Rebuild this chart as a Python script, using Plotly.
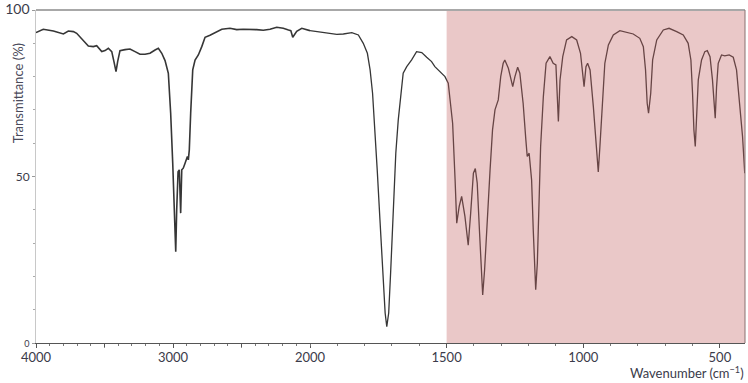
import plotly.graph_objects as go

# Wavenumber (cm-1) and transmittance (%)
wavenumber = [
    4000, 3947, 3873, 3837, 3800, 3764, 3727, 3703, 3655, 3618, 3582, 3557, 3520, 3496,
    3472, 3447, 3431, 3416, 3404, 3387, 3350, 3314, 3277, 3241, 3204, 3168, 3131, 3107,
    3082, 3058, 3034, 3017, 3002, 2993, 2985, 2980, 2973, 2963, 2954, 2944, 2936, 2925,
    2912, 2895, 2888, 2881, 2871, 2856, 2839, 2815, 2790, 2766, 2730, 2681, 2644, 2584,
    2535, 2487, 2438, 2389, 2341, 2292, 2243, 2195, 2157, 2140, 2126, 2110, 2097, 2060,
    2024, 2000, 1976, 1939, 1902, 1878, 1847, 1823, 1805, 1790, 1780, 1771, 1762, 1754,
    1744, 1734, 1725, 1719, 1712, 1705, 1695, 1686, 1677, 1668, 1659, 1646, 1628, 1610,
    1591, 1573, 1555, 1543, 1524, 1506, 1494, 1488, 1478, 1469, 1463, 1454, 1445, 1433,
    1421, 1412, 1402, 1395, 1388, 1380, 1373, 1368, 1361, 1351, 1341, 1332, 1323, 1311,
    1302, 1293, 1287, 1274, 1258, 1250, 1240, 1232, 1220, 1210, 1205, 1198, 1189, 1183,
    1174, 1168, 1162, 1156, 1146, 1136, 1122, 1110, 1100, 1091, 1085, 1075, 1061, 1042,
    1024, 1010, 997, 990, 984, 975, 963, 951, 945, 939, 930, 921, 908, 890,
    866, 841, 817, 793, 780, 772, 766, 761, 753, 746, 731, 707, 686, 658,
    634, 616, 606, 600, 595, 590, 585, 579, 567, 555, 546, 536, 527, 519,
    517, 512, 506, 494, 482, 466, 451, 439, 427, 417, 409,
]
transmittance = [
    93.2, 94.2, 93.7, 93.2, 92.8, 93.7, 93.5, 93.0, 90.8, 89.2, 89.0, 89.3, 87.5, 87.8,
    88.5, 87.5, 84.5, 81.5, 84.5, 87.8, 88.1, 88.3, 87.5, 86.7, 86.7, 87.0, 88.0, 88.5,
    87.0, 84.8, 81.0, 69.0, 54.0, 42.0, 34.0, 27.4, 40.0, 51.4, 52.0, 39.0, 52.0, 52.5,
    54.0, 56.0, 55.0, 58.0, 69.0, 82.0, 85.0, 86.5, 89.0, 91.8, 92.4, 93.5, 94.2, 94.5,
    94.1, 94.2, 94.2, 94.1, 93.9, 94.2, 94.8, 94.5, 94.0, 93.8, 91.8, 93.0, 93.6, 94.5,
    94.0, 93.8, 93.5, 93.2, 92.7, 92.8, 93.2, 92.5, 90.0, 87.0, 82.0, 75.0, 64.0, 52.0,
    37.0, 21.0, 9.0, 4.9, 9.0, 21.0, 39.0, 57.0, 67.0, 75.0, 81.0, 83.0, 85.0, 87.5,
    87.2, 85.8, 84.5, 83.0, 81.5, 80.0, 78.0, 74.0, 66.0, 49.0, 36.0, 41.0, 44.0, 38.0,
    29.4, 39.0, 51.0, 52.4, 48.0, 34.0, 22.0, 14.4, 22.0, 38.0, 52.0, 64.0, 70.0, 73.0,
    80.0, 84.0, 85.0, 82.5, 77.0, 80.0, 82.8, 81.0, 72.0, 61.0, 56.0, 57.0, 49.0, 34.0,
    16.0, 24.0, 44.0, 59.0, 74.0, 84.0, 86.0, 84.0, 83.5, 66.5, 79.0, 86.0, 91.0, 92.0,
    91.0, 87.0, 77.0, 83.0, 84.0, 82.0, 71.0, 57.0, 51.4, 59.0, 72.0, 84.0, 89.5, 92.5,
    93.8, 93.2, 92.8, 91.5, 89.0, 82.0, 72.0, 69.0, 75.0, 85.0, 91.0, 94.0, 94.5, 93.5,
    92.5, 90.0, 85.0, 75.0, 64.0, 59.0, 67.0, 79.0, 85.0, 87.5, 87.8, 86.0, 79.0, 69.0,
    67.5, 77.0, 84.0, 86.5, 86.2, 86.5, 85.8, 82.0, 72.0, 62.0, 51.0,
]
x_tick_labels_left = ["4000", "3000", "2000"]
x_tick_labels_right = ["1500", "1000", "500"]

break_wn = 2000          # scale changes here (expanded below 2000)
x_end = 408
fingerprint_start = 1500

left_x = [w for w in wavenumber if w >= break_wn]
left_y = [t for w, t in zip(wavenumber, transmittance) if w >= break_wn]
right_x = [w for w in wavenumber if w <= break_wn]
right_y = [t for w, t in zip(wavenumber, transmittance) if w <= break_wn]

W, H = 748, 383
ml, mr, mt, mb = 36, 3, 10, 40
split = (310 - ml) / (W - ml - mr)

tick_font = dict(family="Lato, Carlito, Arial, sans-serif", size=13, color="#3b3b4a")
line_color = "#363636"

fig = go.Figure()
fig.add_trace(go.Scatter(x=left_x, y=left_y, mode="lines", xaxis="x", yaxis="y",
                         line=dict(color=line_color, width=1.6), showlegend=False,
                         hoverinfo="skip"))
fig.add_trace(go.Scatter(x=right_x, y=right_y, mode="lines", xaxis="x2", yaxis="y",
                         line=dict(color=line_color, width=1.3), showlegend=False,
                         hoverinfo="skip"))

common_x = dict(showgrid=False, zeroline=False, showline=True, linecolor="#555555",
                linewidth=1, ticks="outside", ticklen=4, tickcolor="#555555",
                tickfont=tick_font, anchor="y", automargin=False, ticklabelstandoff=-2,
                minor=dict(dtick=100, tick0=0, ticks="outside", ticklen=2,
                           tickcolor="#777777", showgrid=False))

fig.update_layout(
    width=W, height=H, autosize=False,
    margin=dict(l=ml, r=mr, t=mt, b=mb, autoexpand=False),
    paper_bgcolor="white", plot_bgcolor="white",
    xaxis=dict(domain=[0, split], range=[4000, break_wn],
               tickvals=[4000, 3000, 2000], ticktext=x_tick_labels_left, **common_x),
    xaxis2=dict(domain=[split, 1], range=[break_wn, x_end],
                tickvals=[1500, 1000, 500], ticktext=x_tick_labels_right, **common_x),
    yaxis=dict(range=[0, 100], domain=[0, 1], showgrid=False, zeroline=False,
               showline=True, linecolor="#c8c8c8", linewidth=1, automargin=False,
               tickvals=[0, 50, 100],
               ticktext=['<span style="font-size:9px">0</span>',
                         '<span style="font-size:12px">50</span>',
                         '<span style="font-size:14px">100</span>'],
               ticks="outside", ticklen=3, tickcolor="#999999",
               tickfont=dict(family="Lato, Arial, sans-serif", size=12, color="#3b3b4a"),
               minor=dict(dtick=10, ticks="outside", ticklen=2, tickcolor="#aaaaaa")),
    shapes=[
        dict(type="rect", xref="x2", yref="paper", x0=fingerprint_start, x1=x_end,
             y0=0, y1=1, fillcolor="rgba(195,98,98,0.35)", line=dict(width=0),
             layer="above"),
        dict(type="line", xref="paper", yref="paper", x0=0, x1=1, y0=1, y1=1,
             line=dict(color="#a8a8a8", width=2), layer="above"),
        dict(type="line", xref="paper", yref="paper", x0=1, x1=1, y0=0, y1=1,
             line=dict(color="#8a7070", width=1), layer="above"),
        dict(type="line", xref="x", yref="paper", x0=3500, x1=3500, y0=0, y1=-0.014,
             line=dict(color="#555555", width=1)),
        dict(type="line", xref="x", yref="paper", x0=2500, x1=2500, y0=0, y1=-0.014,
             line=dict(color="#555555", width=1)),
    ],
    annotations=[
        dict(text="Transmittance (%)", xref="paper", yref="paper",
             x=(18 - ml) / (W - ml - mr), y=0.75, textangle=-90,
             showarrow=False, xanchor="center", yanchor="middle",
             font=dict(family="Lato, Arial, sans-serif", size=13, color="#4a4a5a")),
        dict(text="Wavenumber (cm<sup>−1</sup>)", xref="paper", yref="paper",
             x=1, y=-0.117, showarrow=False, xanchor="right", yanchor="bottom",
             borderpad=0,
             font=dict(family="Lato, Arial, sans-serif", size=13, color="#3b3b4a")),
    ],
)

fig.write_html("out.html")
